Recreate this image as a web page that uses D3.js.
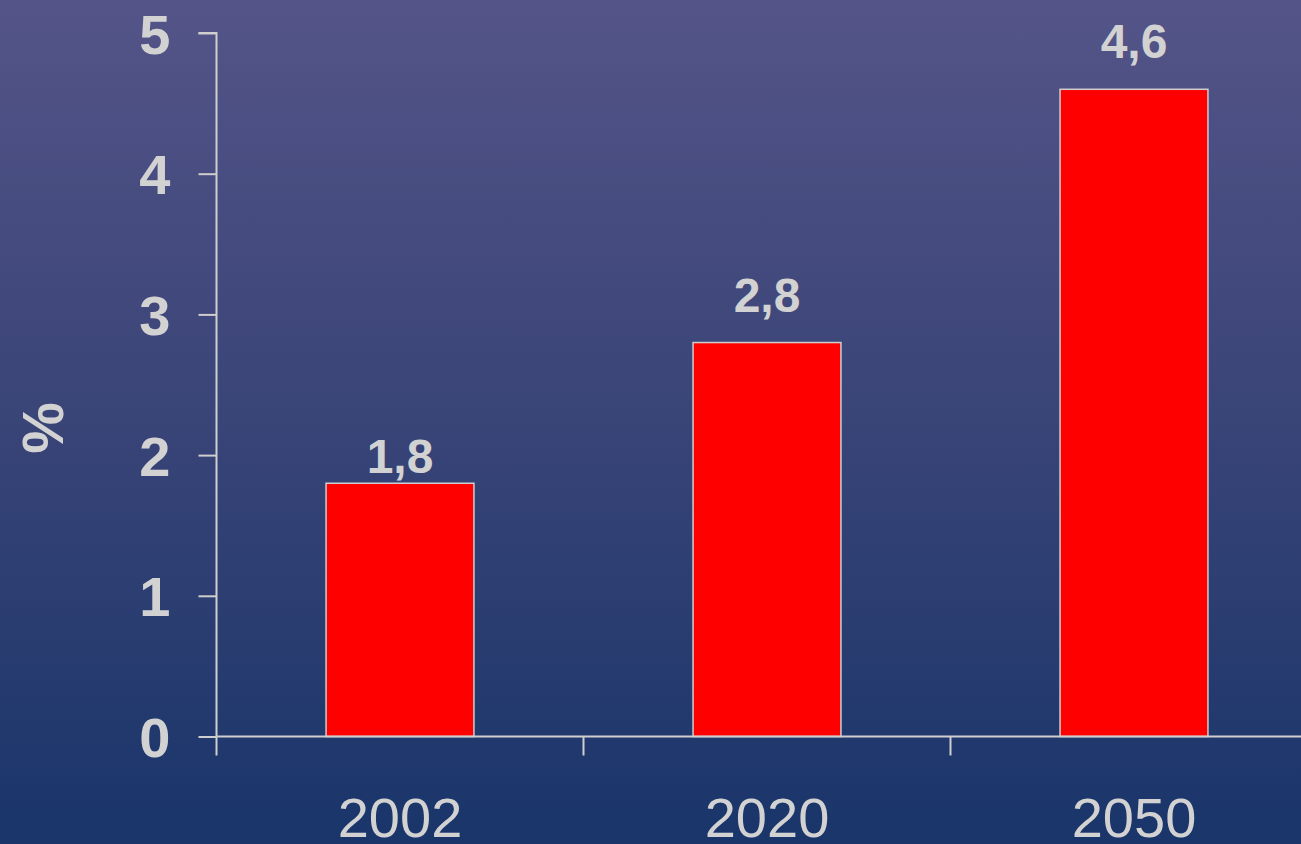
<!DOCTYPE html>
<html>
<head>
<meta charset="utf-8">
<script src="https://cdn.jsdelivr.net/npm/d3@7/dist/d3.min.js"></script>
<style>
  html, body { margin: 0; padding: 0; overflow: hidden; }
  svg { display: block; font-family: "Liberation Sans", Arial, sans-serif; }
</style>
</head>
<body>
<script>
// Share of population (%) by year
const years = ["2002", "2020", "2050"];
const shares = [1.8, 2.8, 4.6];
const shareLabels = ["1,8", "2,8", "4,6"];
const yTicks = [0, 1, 2, 3, 4, 5];
const yTitle = "%";

const W = 1301, H = 844;
const textColor = "#d2d2d2";
const lineColor = "#cfcfcf";
// distance (px) between each value label's baseline and its bar top
const labelGap = [10, 31, 31];

const svg = d3.select("body").append("svg")
  .attr("width", W).attr("height", H);

// Background gradient: violet at the top fading to deep blue
const defs = svg.append("defs");
const grad = defs.append("linearGradient")
  .attr("id", "bg").attr("x1", 0).attr("y1", 0).attr("x2", 0).attr("y2", 1);
grad.append("stop").attr("offset", "0%").attr("stop-color", "#545488");
grad.append("stop").attr("offset", "50%").attr("stop-color", "#394477");
grad.append("stop").attr("offset", "100%").attr("stop-color", "#19356a");
svg.append("rect").attr("width", W).attr("height", H).attr("fill", "url(#bg)");

const plotLeft = 216.5, plotBottom = 736.5, plotTop = 33;
const x = d3.scaleBand().domain(years)
  .range([plotLeft, plotLeft + 367 * years.length])
  .paddingInner(0.597).paddingOuter(0.2985);
const y = d3.scaleLinear().domain([0, 5]).range([plotBottom, plotTop]);

// Bars
svg.append("g").selectAll("rect")
  .data(shares)
  .join("rect")
  .attr("x", (d, i) => x(years[i]))
  .attr("y", d => y(d))
  .attr("width", x.bandwidth())
  .attr("height", d => y(0) - y(d))
  .attr("fill", "#ff0000")
  .attr("stroke", lineColor)
  .attr("stroke-width", 1.5);

// Value labels above bars
svg.append("g").selectAll("text")
  .data(shares)
  .join("text")
  .attr("x", (d, i) => x(years[i]) + x.bandwidth() / 2)
  .attr("y", (d, i) => y(d) - labelGap[i])
  .attr("text-anchor", "middle")
  .attr("font-size", 48)
  .attr("font-weight", "bold")
  .attr("fill", textColor)
  .text((d, i) => shareLabels[i]);

// Y axis
const yAxis = d3.axisLeft(y).tickValues(yTicks).tickSize(18).tickPadding(28)
  .tickFormat(d3.format("d"));
const gy = svg.append("g").attr("transform", `translate(${plotLeft},0)`).call(yAxis);
gy.select(".domain").attr("stroke", lineColor).attr("stroke-width", 2)
  .attr("d", `M-18,${plotTop}H0V${plotBottom}`);
gy.selectAll(".tick line").attr("stroke", lineColor).attr("stroke-width", 2);
gy.selectAll(".tick text")
  .attr("fill", textColor)
  .attr("font-size", 56)
  .attr("font-weight", "bold")
  .attr("font-family", "'Liberation Sans', Arial, sans-serif")
  .attr("dy", "0.36em");

// X axis: ticks at category boundaries, labels centred in each band
const gx = svg.append("g").attr("transform", `translate(0,${plotBottom})`);
gx.append("line")
  .attr("x1", plotLeft).attr("x2", W).attr("y1", 0).attr("y2", 0)
  .attr("stroke", lineColor).attr("stroke-width", 2);
gx.selectAll("line.tick")
  .data(years)
  .join("line")
  .attr("class", "tick")
  .attr("x1", d => x(d) - x.step() * x.paddingOuter())
  .attr("x2", d => x(d) - x.step() * x.paddingOuter())
  .attr("y1", 0).attr("y2", 19)
  .attr("stroke", lineColor).attr("stroke-width", 2);
gx.selectAll("text")
  .data(years)
  .join("text")
  .attr("x", d => x(d) + x.bandwidth() / 2)
  .attr("y", 100)
  .attr("text-anchor", "middle")
  .attr("font-size", 56)
  .attr("fill", textColor)
  .text(d => d);

// Y axis title
svg.append("text")
  .attr("transform", "translate(63,428) rotate(-90)")
  .attr("text-anchor", "middle")
  .attr("font-size", 58)
  .attr("font-weight", "bold")
  .attr("fill", textColor)
  .text(yTitle);
</script>
</body>
</html>
